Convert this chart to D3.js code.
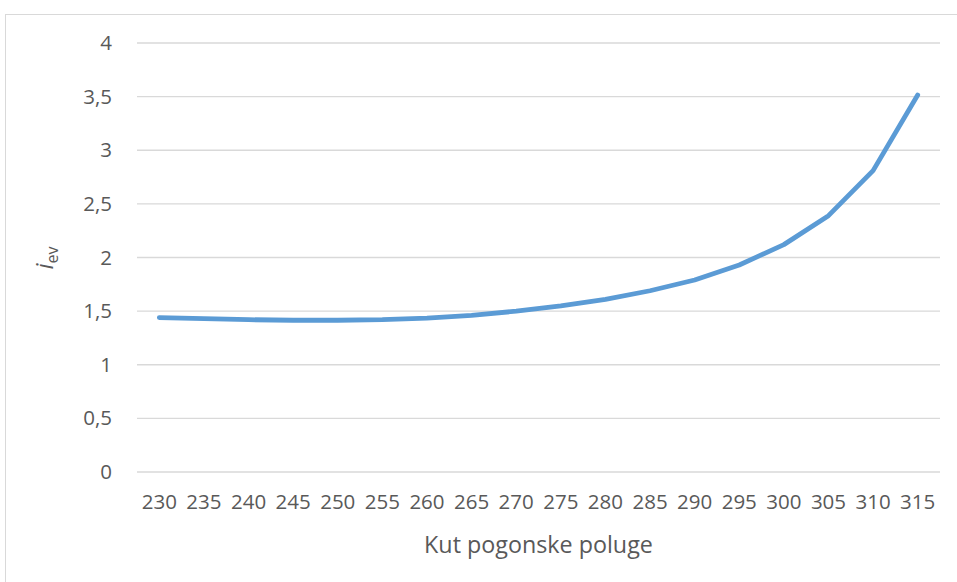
<!DOCTYPE html>
<html>
<head>
<meta charset="utf-8">
<script src="https://cdn.jsdelivr.net/npm/d3@7"></script>
<style>
html,body{margin:0;padding:0;background:#fff;}
svg{display:block;}
text{font-family:"Open Sans",sans-serif;fill:#595959;}
</style>
</head>
<body>
<svg id="chart" width="957" height="582"></svg>
<script>
const categories = [230,235,240,245,250,255,260,265,270,275,280,285,290,295,300,305,310,315];
const values = [1.44,1.43,1.42,1.415,1.415,1.42,1.435,1.46,1.50,1.55,1.61,1.69,1.79,1.93,2.12,2.39,2.81,3.515];
const yTicks = [0,0.5,1,1.5,2,2.5,3,3.5,4];
const xTitle = "Kut pogonske poluge";

const W = 957, H = 582;
const m = {left:137, right:17, top:43, bottom:110};
const svg = d3.select("#chart");

svg.append("rect").attr("x",5.5).attr("y",14.5).attr("width",W).attr("height",H)
  .attr("fill","none").attr("stroke","#d9d9d9").attr("stroke-width",1);

const x = d3.scaleBand().domain(categories).range([m.left, W-m.right]);
const y = d3.scaleLinear().domain([0,4]).range([H-m.bottom, m.top]);

const fmt = d => d3.format("")(d).replace(".", ",");

// gridlines
svg.append("g").selectAll("line").data(yTicks).join("line")
  .attr("x1",m.left).attr("x2",W-m.right)
  .attr("y1",d=>y(d)).attr("y2",d=>y(d))
  .attr("stroke","#d9d9d9").attr("stroke-width",1.3);

// y axis labels
const yAxis = svg.append("g").attr("transform",`translate(${m.left-25},0)`)
  .call(d3.axisLeft(y).tickValues(yTicks).tickFormat(fmt).tickSize(0).tickPadding(0));
yAxis.select(".domain").remove();
yAxis.selectAll("text").attr("font-size",20.5).attr("font-family","Open Sans").attr("fill","#595959");

// x axis labels
const xAxis = svg.append("g").attr("transform",`translate(0,${H-m.bottom})`)
  .call(d3.axisBottom(x).tickSize(0).tickPadding(22));
xAxis.select(".domain").remove();
xAxis.selectAll("text").attr("font-size",20.5).attr("font-family","Open Sans").attr("fill","#595959");

// line
const line = d3.line().x((d,i)=>x(categories[i])+x.bandwidth()/2).y(d=>y(d));
svg.append("path").datum(values).attr("d",line)
  .attr("fill","none").attr("stroke","#5B9BD5").attr("stroke-width",4.8)
  .attr("stroke-linecap","round").attr("stroke-linejoin","round");

// x title
svg.append("text").attr("x",(m.left+W-m.right)/2).attr("y",553)
  .attr("text-anchor","middle").attr("font-size",23.3).text(xTitle);

// y title
const yt = svg.append("text").attr("transform",`translate(53,${258}) rotate(-90)`)
  .attr("text-anchor","middle").attr("font-size",24);
yt.append("tspan").attr("font-style","italic").text("i");
yt.append("tspan").attr("font-size",16).attr("dy",5).text("ev");
</script>
</body>
</html>
